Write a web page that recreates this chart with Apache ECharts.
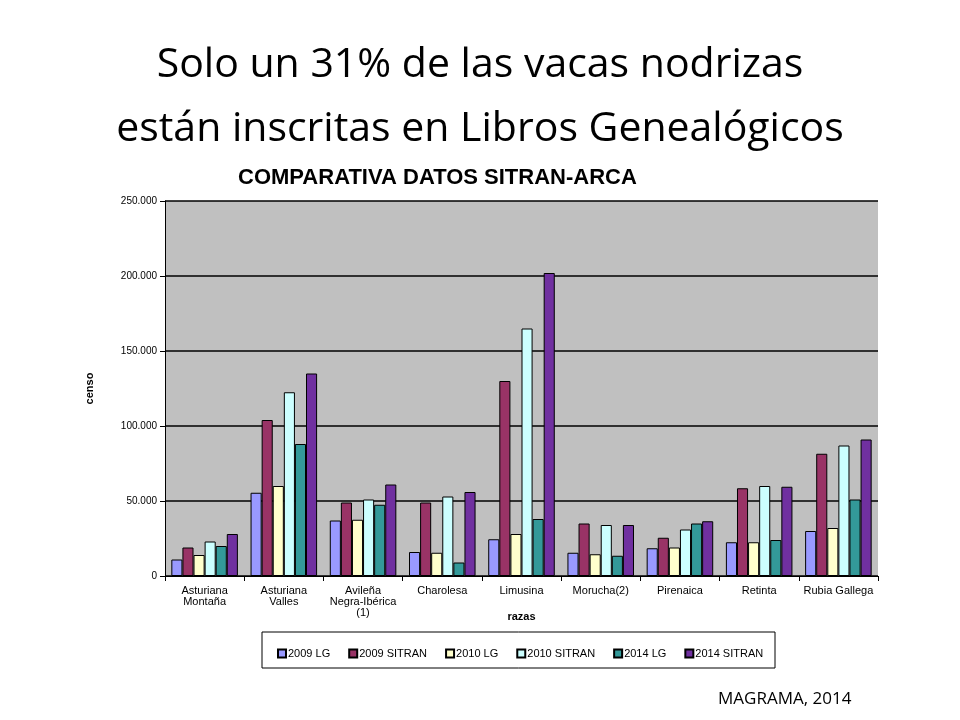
<!DOCTYPE html>
<html><head><meta charset="utf-8">
<script src="https://cdn.jsdelivr.net/npm/echarts@6/dist/echarts.min.js"></script>
<style>body{margin:0;background:#fff}#c{width:960px;height:720px}</style>
</head><body><div id="c"></div>
<script>
const categories = ['Asturiana\nMontaña','Asturiana\nValles','Avileña\nNegra-Ibérica\n(1)','Charolesa','Limusina','Morucha(2)','Pirenaica','Retinta','Rubia Gallega'];
const seriesNames = ['2009 LG','2009 SITRAN','2010 LG','2010 SITRAN','2014 LG','2014 SITRAN'];
const lg2009 = [11000,55500,37000,16000,24500,15500,18500,22500,30000];
const sitran2009 = [19000,104000,49000,49000,130000,35000,25500,58500,81500];
const lg2010 = [14000,60000,37500,15500,28000,14500,19000,22500,32000];
const sitran2010 = [23000,122500,51000,53000,165000,34000,31000,60000,87000];
const lg2014 = [20000,88000,47500,9000,38000,13500,35000,24000,51000];
const sitran2014 = [28000,135000,61000,56000,202000,34000,36500,59500,91000];
const colors = ['#9999ff','#993366','#ffffcc','#ccffff','#339999','#7030a0'];
const allData = [lg2009,sitran2009,lg2010,sitran2010,lg2014,sitran2014];
const chart = echarts.init(document.getElementById('c'));
chart.setOption({
  animation:false,
  backgroundColor:'#fff',
  graphic:[
    {type:'text',left:'center',top:33,style:{text:'Solo un 31% de las vacas nodrizas\nestán inscritas en Libros Genealógicos',font:'41px "Open Sans"',fill:'#000',textAlign:'center',lineHeight:64}},
    {type:'text',left:238,top:167,style:{text:'COMPARATIVA DATOS SITRAN-ARCA',font:'bold 22px "Liberation Sans"',fill:'#000'}},
    {type:'text',left:718,top:691,style:{text:'MAGRAMA, 2014',font:'17px "Open Sans"',fill:'#000'}},
    {type:'rect',shape:{x:262,y:632,width:513,height:36},style:{fill:'#fff',stroke:'#000',lineWidth:1}}
  ],
  legend:{data:seriesNames,left:272,top:643,itemWidth:8,itemHeight:8,itemGap:18,icon:'rect',
    textStyle:{fontSize:11,fontFamily:'Liberation Sans',color:'#000',padding:[0,0,0,-3]}},
  grid:{left:165,right:82,top:201,bottom:144},
  xAxis:{type:'category',data:categories,name:'razas',nameLocation:'middle',nameGap:35,nameMoveOverlap:false,
    nameTextStyle:{fontWeight:'bold',fontSize:11,fontFamily:'Liberation Sans',color:'#000'},
    axisLine:{lineStyle:{color:'#000'}},axisTick:{show:true,lineStyle:{color:'#000'}},
    axisLabel:{fontSize:11,fontFamily:'Liberation Sans',color:'#000',lineHeight:11,interval:0,margin:9}},
  yAxis:{type:'value',min:0,max:250000,interval:50000,name:'censo',nameLocation:'middle',nameGap:70,nameMoveOverlap:false,
    nameTextStyle:{fontWeight:'bold',fontSize:11,fontFamily:'Liberation Sans',color:'#000'},
    axisLine:{show:true,lineStyle:{color:'#000'}},axisTick:{show:true,lineStyle:{color:'#000'}},
    splitLine:{lineStyle:{color:'#000',width:1.5}},
    splitArea:{show:true,areaStyle:{color:['#c0c0c0','#c0c0c0']}},
    axisLabel:{fontSize:10,fontFamily:'Liberation Sans',color:'#000',
      formatter:v=>v===0?'0':String(v).replace(/(\d)(?=(\d{3})+$)/g,'$1.')}},
  series:seriesNames.map((n,i)=>({name:n,type:'bar',data:allData[i],barGap:'0%',barCategoryGap:'16%',
    itemStyle:{color:colors[i],borderColor:'#000',borderWidth:1}}))
});
</script></body></html>
